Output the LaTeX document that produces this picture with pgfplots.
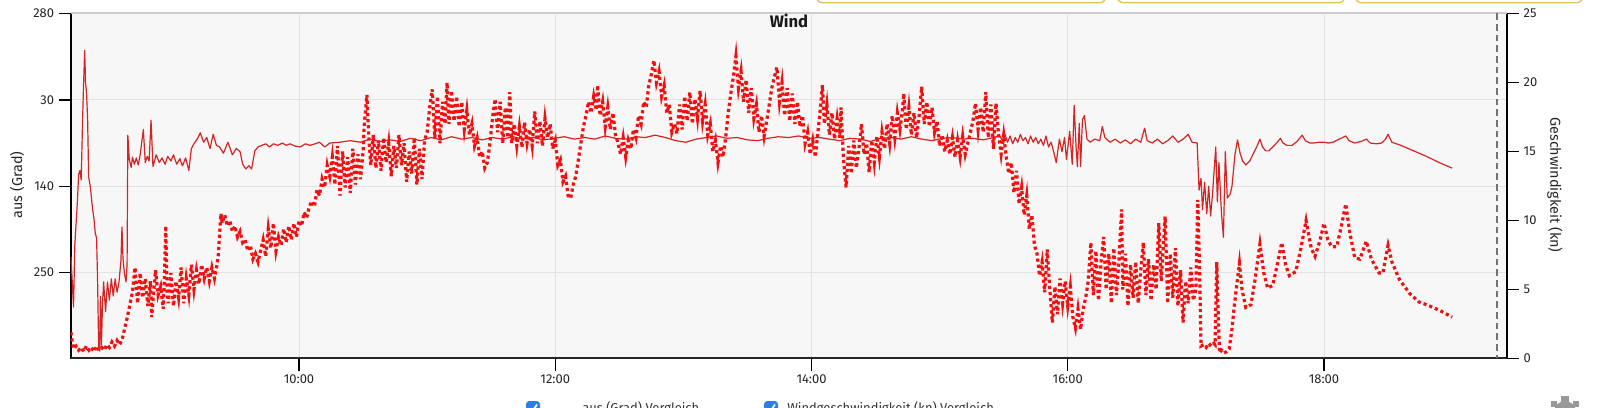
\documentclass[border=0pt]{standalone}
\usepackage{fontspec}
\setmainfont{Fira Sans}
\usepackage{pgfplots}
\usepackage{pgfplotstable}
\pgfplotsset{compat=1.18}
\definecolor{plotbg}{HTML}{F7F7F7}
\definecolor{gridc}{HTML}{E2E2E2}
\definecolor{solidred}{HTML}{D42424}
\definecolor{dotred}{HTML}{F21010}
\definecolor{btn}{HTML}{E6C15A}
\definecolor{chk}{HTML}{2F7FE0}

% wind direction (degrees, left axis)
\pgfplotstableread{
t d
8.220 230
8.230 262
8.240 294
8.250 215
8.262 182
8.270 160
8.280 125
8.290 120
8.300 132
8.310 60
8.318 12
8.327 -33
8.334 8
8.342 22
8.350 55
8.358 128
8.372 142
8.388 168
8.400 182
8.410 200
8.420 206
8.428 262
8.436 345
8.444 350
8.450 280
8.458 342
8.466 290
8.475 262
8.490 300
8.505 262
8.520 285
8.535 258
8.550 280
8.565 258
8.580 275
8.595 262
8.610 235
8.618 192
8.626 232
8.638 252
8.650 262
8.658 240
8.664 75
8.675 106
8.690 116
8.700 103
8.715 112
8.730 104
8.745 113
8.760 100
8.785 68
8.800 110
8.815 102
8.830 108
8.845 56
8.860 115
8.885 100
8.910 110
8.930 104
8.955 112
8.975 102
9.000 108
9.020 100
9.045 112
9.070 105
9.090 114
9.115 104
9.140 120
9.160 92
9.180 86
9.205 80
9.230 72
9.255 84
9.280 78
9.305 92
9.330 74
9.355 88
9.380 90
9.410 98
9.445 84
9.480 100
9.510 92
9.540 96
9.560 112
9.585 118
9.610 114
9.630 118
9.655 95
9.680 90
9.710 88
9.740 86
9.770 90
9.800 86
9.835 88
9.870 85
9.900 88
9.930 86
9.970 89
10.010 90
10.050 86
10.085 88
10.125 86
10.160 84
10.200 90
10.240 85
10.320 84
10.400 82
10.480 84
10.550 80
10.630 83
10.710 81
10.790 83
10.870 79
10.950 82
11.030 78
11.110 81
11.190 77
11.270 80
11.350 78
11.430 81
11.510 78
11.590 80
11.670 77
11.750 80
11.830 78
11.910 81
11.990 79
12.070 77
12.150 80
12.230 78
12.310 80
12.390 76
12.470 79
12.550 80
12.630 77
12.700 78
12.780 75
12.860 78
12.940 82
13.020 84
13.100 80
13.180 78
13.260 76
13.340 79
13.420 78
13.500 81
13.580 82
13.660 79
13.740 77
13.820 78
13.900 76
13.980 79
14.060 78
14.140 80
14.220 82
14.300 79
14.380 80
14.460 83
14.540 79
14.620 78
14.700 80
14.780 77
14.860 80
14.940 82
15.020 79
15.100 78
15.180 80
15.260 79
15.340 81
15.420 78
15.470 76
15.490 82
15.510 74
15.530 84
15.550 76
15.570 86
15.590 78
15.610 84
15.630 74
15.650 82
15.670 78
15.690 86
15.710 76
15.730 84
15.750 78
15.770 86
15.790 80
15.810 88
15.830 76
15.850 90
15.870 84
15.890 96
15.910 110
15.935 80
15.955 96
15.975 78
15.990 106
16.015 70
16.035 112
16.050 37
16.065 90
16.075 115
16.090 60
16.100 115
16.115 55
16.130 50
16.150 80
16.175 84
16.210 80
16.250 82
16.270 64
16.290 78
16.330 84
16.370 80
16.410 85
16.450 81
16.490 86
16.530 80
16.570 84
16.600 66
16.620 82
16.660 85
16.700 80
16.740 86
16.780 82
16.820 76
16.860 84
16.900 80
16.940 74
16.970 84
17.010 85
17.025 145
17.040 130
17.052 170
17.068 135
17.085 175
17.100 140
17.115 178
17.130 150
17.155 90
17.168 160
17.180 110
17.200 175
17.215 205
17.230 96
17.245 155
17.268 150
17.282 140
17.305 100
17.325 81
17.345 98
17.365 108
17.390 113
17.420 108
17.450 98
17.480 88
17.500 80
17.520 90
17.545 95
17.570 95
17.600 90
17.630 85
17.660 79
17.680 85
17.710 88
17.750 88
17.790 83
17.830 75
17.855 82
17.890 85
17.920 85
17.960 84
18.000 84
18.035 85
18.070 84
18.120 80
18.170 76
18.195 82
18.240 85
18.290 83
18.330 80
18.360 85
18.410 86
18.450 85
18.480 80
18.500 74
18.530 84
18.600 88
18.700 95
18.800 102
18.900 110
19.000 117
}\dirdata

% wind speed (kn, right axis)
\pgfplotstableread{
t k
8.220 1.9
8.230 1.2
8.240 0.7
8.260 0.9
8.280 0.6
8.300 0.8
8.320 0.5
8.340 0.9
8.360 0.6
8.380 0.8
8.400 0.5
8.420 0.9
8.440 0.6
8.460 0.8
8.480 0.6
8.500 1.0
8.520 0.8
8.540 1.2
8.560 0.9
8.580 1.3
8.600 1.0
8.620 1.4
8.640 2.2
8.660 3.0
8.680 3.9
8.700 4.8
8.720 6.6
8.740 4.0
8.755 5.4
8.760 6.2
8.780 4.4
8.800 5.8
8.820 3.8
8.840 5.6
8.850 3.0
8.860 4.2
8.880 6.4
8.900 4.6
8.920 5.2
8.940 3.6
8.950 6.0
8.960 9.6
8.970 5.0
8.980 4.0
9.000 6.2
9.020 3.8
9.040 5.6
9.060 4.4
9.080 6.6
9.100 4.0
9.120 5.8
9.140 4.6
9.160 6.8
9.180 5.0
9.200 6.4
9.220 5.4
9.240 6.8
9.260 5.8
9.280 6.6
9.300 5.6
9.320 6.6
9.340 5.8
9.360 6.8
9.370 7.5
9.380 9.0
9.390 10.5
9.400 9.8
9.420 10.4
9.440 9.6
9.460 10.0
9.480 9.2
9.500 9.6
9.520 8.8
9.540 9.2
9.560 8.4
9.580 8.6
9.600 7.8
9.620 8.2
9.640 7.2
9.660 7.6
9.680 7.0
9.700 7.8
9.720 8.6
9.740 7.4
9.760 9.4
9.780 8.0
9.800 9.8
9.820 7.8
9.840 8.8
9.860 8.2
9.880 9.4
9.900 8.4
9.920 9.6
9.940 8.6
9.960 9.8
9.980 8.8
10.000 10.0
10.020 9.6
10.040 10.6
10.060 10.2
10.080 11.0
10.100 11.4
10.120 11.0
10.140 12.2
10.160 11.8
10.180 13.0
10.200 12.4
10.220 14.0
10.240 13.2
10.260 14.6
10.280 12.6
10.300 15.4
10.320 11.8
10.340 15.0
10.360 12.4
10.380 14.6
10.400 12.0
10.420 15.2
10.440 12.6
10.460 14.8
10.480 13.0
10.500 15.0
10.510 17.0
10.530 19.1
10.545 16.0
10.560 14.0
10.580 16.2
10.600 13.8
10.620 15.8
10.640 13.6
10.660 16.0
10.680 14.2
10.700 15.6
10.720 13.2
10.740 15.4
10.760 13.8
10.780 16.2
10.800 14.0
10.820 15.6
10.840 12.8
10.860 15.0
10.880 13.4
10.900 16.0
10.920 12.6
10.940 15.2
10.960 13.0
10.980 15.8
11.000 16.4
11.020 18.2
11.040 19.5
11.060 16.0
11.080 19.0
11.100 15.6
11.120 18.6
11.140 17.0
11.155 20.0
11.170 17.0
11.190 19.4
11.210 17.2
11.230 19.0
11.250 16.8
11.270 18.6
11.290 16.6
11.310 18.0
11.330 16.2
11.350 17.0
11.370 15.4
11.390 16.0
11.410 14.6
11.430 15.0
11.450 13.8
11.470 14.2
11.490 15.6
11.510 17.4
11.530 18.8
11.550 16.4
11.570 18.6
11.590 15.6
11.610 18.2
11.630 16.0
11.645 19.3
11.660 15.6
11.680 17.0
11.700 15.4
11.720 16.8
11.740 15.3
11.760 17.1
11.780 15.6
11.800 16.6
11.820 15.4
11.840 17.9
11.860 15.6
11.880 17.2
11.900 15.4
11.920 17.4
11.940 16.0
11.960 17.0
11.980 15.2
12.000 15.8
12.020 14.0
12.040 14.4
12.060 12.8
12.080 13.2
12.100 11.8
12.120 11.6
12.140 12.6
12.160 13.2
12.180 14.4
12.200 15.6
12.220 16.8
12.240 17.6
12.260 18.6
12.280 17.8
12.300 19.0
12.320 18.0
12.330 19.8
12.350 17.6
12.370 18.6
12.390 16.8
12.410 18.2
12.430 16.6
12.450 17.8
12.470 16.2
12.490 15.6
12.510 14.8
12.530 16.0
12.550 14.6
12.570 15.8
12.590 15.2
12.610 16.6
12.630 16.0
12.650 17.6
12.670 17.0
12.690 18.6
12.710 18.2
12.730 19.8
12.750 20.6
12.770 21.6
12.790 20.0
12.810 20.8
12.830 19.0
12.850 19.8
12.870 17.8
12.890 18.4
12.910 16.4
12.930 17.0
12.950 16.3
12.970 18.4
12.990 16.6
13.010 19.0
13.030 17.2
13.050 19.3
13.070 17.0
13.090 18.8
13.110 17.4
13.130 19.4
13.150 17.2
13.170 18.4
13.190 16.2
13.210 17.0
13.230 15.0
13.250 15.8
13.270 14.2
13.290 15.4
13.310 14.6
13.330 16.0
13.350 17.8
13.370 19.2
13.390 20.4
13.410 21.9
13.430 19.6
13.450 20.8
13.470 18.6
13.490 20.2
13.510 17.8
13.530 19.6
13.550 17.4
13.570 18.4
13.590 16.4
13.610 17.6
13.630 16.1
13.650 17.2
13.670 18.4
13.690 19.6
13.710 20.4
13.730 21.1
13.750 18.6
13.770 20.0
13.790 17.6
13.810 19.6
13.830 17.2
13.850 19.2
13.870 17.0
13.890 18.6
13.910 16.8
13.930 17.6
13.950 15.6
13.970 16.4
13.990 14.8
14.010 15.8
14.030 14.6
14.050 16.4
14.070 18.2
14.085 19.8
14.100 17.0
14.120 18.4
14.140 16.2
14.160 17.8
14.180 15.9
14.200 17.4
14.220 16.0
14.230 18.2
14.250 14.4
14.270 12.4
14.290 15.4
14.310 13.4
14.330 15.8
14.350 13.8
14.370 15.2
14.390 17.0
14.410 14.8
14.430 15.6
14.450 13.5
14.470 15.8
14.490 14.2
14.510 16.1
14.530 14.6
14.550 16.4
14.570 15.2
14.590 17.0
14.610 15.6
14.630 17.6
14.650 16.0
14.670 17.8
14.690 16.6
14.710 18.0
14.720 19.2
14.740 16.6
14.760 18.2
14.780 16.2
14.800 17.8
14.820 16.0
14.840 17.6
14.860 19.7
14.880 17.0
14.900 18.6
14.920 16.8
14.940 18.2
14.960 16.4
14.980 17.2
15.000 15.4
15.020 16.2
15.040 15.0
15.060 15.8
15.080 14.8
15.100 16.0
15.120 14.6
15.140 15.8
15.160 14.6
15.180 16.1
15.200 14.8
15.220 15.6
15.240 16.4
15.260 17.2
15.280 18.5
15.300 16.6
15.320 18.2
15.340 16.4
15.360 19.3
15.380 16.0
15.400 18.4
15.420 15.2
15.440 18.5
15.460 16.2
15.480 14.8
15.500 16.2
15.520 14.6
15.540 13.4
15.560 14.2
15.580 12.0
15.600 13.6
15.620 11.2
15.640 12.4
15.660 10.4
15.680 11.8
15.700 9.4
15.720 10.4
15.740 8.2
15.760 7.6
15.780 6.0
15.800 7.0
15.820 4.8
15.840 7.9
15.860 5.0
15.880 2.6
15.900 5.2
15.920 3.2
15.940 5.8
15.960 4.0
15.980 5.6
16.000 3.8
16.020 5.2
16.040 3.0
16.060 2.2
16.080 3.6
16.100 2.1
16.120 3.6
16.140 4.4
16.160 5.6
16.180 8.4
16.200 4.6
16.220 7.8
16.240 4.2
16.260 7.0
16.280 8.8
16.300 5.0
16.320 7.6
16.340 4.0
16.360 8.0
16.380 4.6
16.400 7.2
16.420 10.8
16.430 5.0
16.450 7.6
16.470 3.8
16.490 6.8
16.510 4.4
16.530 7.0
16.550 4.0
16.570 6.4
16.590 8.4
16.610 4.6
16.630 7.2
16.650 4.2
16.670 6.8
16.690 5.0
16.710 9.8
16.730 5.6
16.745 8.0
16.760 10.3
16.780 4.0
16.800 7.6
16.820 4.4
16.840 8.0
16.860 3.8
16.880 6.4
16.900 2.6
16.920 5.6
16.940 4.0
16.960 6.6
16.980 4.2
17.000 5.0
17.015 11.5
17.030 6.0
17.040 0.9
17.060 1.0
17.080 0.8
17.100 1.1
17.120 0.9
17.140 1.1
17.150 1.0
17.163 7.0
17.175 3.0
17.185 0.4
17.200 0.6
17.220 0.4
17.240 0.5
17.260 0.7
17.280 2.0
17.300 3.8
17.320 5.4
17.340 6.9
17.360 5.0
17.390 3.7
17.430 3.9
17.460 5.6
17.500 8.3
17.530 6.2
17.560 5.1
17.600 5.3
17.640 7.0
17.670 8.4
17.700 6.8
17.730 6.0
17.780 6.3
17.820 8.0
17.860 10.0
17.900 8.0
17.930 7.4
17.970 8.6
18.000 9.8
18.030 8.6
18.060 8.1
18.100 8.1
18.140 9.8
18.170 11.2
18.200 9.2
18.240 7.3
18.280 7.2
18.330 8.5
18.370 7.2
18.430 6.2
18.460 6.2
18.500 8.2
18.530 7.0
18.590 5.7
18.670 4.7
18.740 4.1
18.800 3.9
18.900 3.5
19.000 3.0
}\spddata

\begin{document}
\begin{tikzpicture}
\useasboundingbox (0,0) rectangle (1199.25pt,305.25pt);
\clip (0,0) rectangle (1199.25pt,305.25pt);

% left axis: direction
\begin{axis}[
  at={(53.03pt,36.375pt)}, anchor=south west,
  scale only axis, width=1077.2pt, height=258.75pt,
  xmin=8.218, xmax=19.428,
  ymin=-80, ymax=359.5, y dir=reverse,
  axis x line*=bottom, axis y line*=left,
  x axis line style={draw=none},
  y axis line style={line width=1.5pt, draw=black},
  xtick={10,12,14,16,18}, xticklabels={},
  xtick style={draw=none},
  ytick={-80,30,140,250}, yticklabels={280,30,140,250},
  ytick style={line width=1pt, draw=black},
  tick align=outside, major tick length=9pt,
  xmajorgrids, ymajorgrids,
  major grid style={draw=gridc, line width=0.75pt},
  axis background/.style={fill=plotbg},
  tick label style={font=\fontsize{9.7}{11}\selectfont, text=black!85},
  /pgf/number format/assume math mode=true,
]
\addplot[solidred, line width=0.9pt, line join=round] table[x=t, y=d] {\dirdata};
\end{axis}

% right axis: speed
\begin{axis}[
  at={(53.03pt,36.375pt)}, anchor=south west,
  scale only axis, width=1077.2pt, height=258.75pt,
  xmin=8.218, xmax=19.428,
  ymin=0, ymax=25,
  axis x line*=bottom, axis y line*=right,
  x axis line style={line width=1.5pt, draw=black!85},
  y axis line style={line width=1.5pt, draw=black},
  xtick={10,12,14,16,18}, xticklabels={10:00,12:00,14:00,16:00,18:00},
  ytick={0,5,10,15,20,25}, yticklabels={0,5,10,15,20,25},
  tick style={line width=1pt, draw=black},
  tick align=outside, major tick length=9pt,
  tick label style={font=\fontsize{9.7}{11}\selectfont, text=black!85},
  /pgf/number format/assume math mode=true,
]
\addplot[dotred, line width=2.4pt, dash pattern=on 2.4pt off 2.2pt] table[x=t, y=k] {\spddata};
\end{axis}

\begin{scope}[x=0.75pt, y=-0.75pt, yshift=305.25pt]
  % top border and dashed marker line
  \draw[draw=black!20, line width=1.2pt] (70.7,12.8) -- (1507,12.8);
  \draw[draw=black!55, line width=0.8pt, dash pattern=on 5pt off 3pt] (1497,13.5) -- (1497,358.5);
  % title and axis labels
  \node[font=\fontsize{12.5}{14}\selectfont\bfseries, text=black!90] at (789,21) {Wind};
  \node[rotate=90, font=\fontsize{10.8}{12}\selectfont, text=black!85] at (17,185) {aus (Grad)};
  \node[rotate=-90, font=\fontsize{10.8}{12}\selectfont, text=black!85] at (1555,185) {Geschwindigkeit (kn)};
  % cut-off buttons at the top
  \draw[btn, line width=1pt, fill=white, rounded corners=5pt] (816,-20) rectangle (1106,2.8);
  \draw[btn, line width=1pt, fill=white, rounded corners=5pt] (1117,-20) rectangle (1345,2.8);
  \draw[btn, line width=1pt, fill=white, rounded corners=5pt] (1355,-20) rectangle (1583,2.8);
  % cut-off legend at the bottom
  \fill[chk, rounded corners=2.5pt] (526,401) rectangle (540,416);
  \draw[white, line width=1.3pt] (529.5,409) -- (532,412) -- (537,404.5);
  \fill[chk, rounded corners=2.5pt] (764,401) rectangle (778,416);
  \draw[white, line width=1.3pt] (767.5,409) -- (770,412) -- (775,404.5);
  \node[anchor=base west, inner sep=0, font=\fontsize{9.7}{11}\selectfont, text=black!80] at (582,412) {aus (Grad) Vergleich};
  \node[anchor=base west, inner sep=0, font=\fontsize{9.7}{11}\selectfont, text=black!80] at (787,412) {Windgeschwindigkeit (kn) Vergleich};
  % settings icon (cut off)
  \fill[black!40] (1565,412) circle (11);
  \fill[black!40] (1561,396) rectangle (1569,402);
  \fill[black!40] (1551,401) rectangle (1557,407);
  \fill[black!40] (1573,401) rectangle (1579,407);
\end{scope}
\end{tikzpicture}
\end{document}
